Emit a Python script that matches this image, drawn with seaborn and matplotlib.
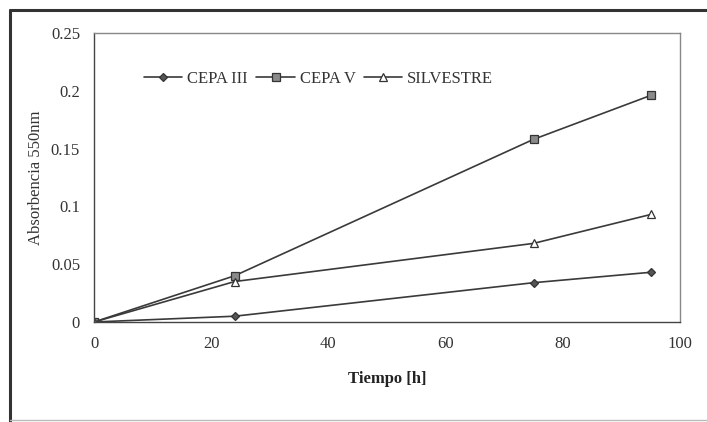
import numpy as np
import pandas as pd
import matplotlib.pyplot as plt
import seaborn as sns
from matplotlib.lines import Line2D
from matplotlib.ticker import FuncFormatter

tiempo = [0, 24, 75, 95]
cepa_iii = [0.0, 0.005, 0.034, 0.043]
cepa_v = [0.0, 0.040, 0.158, 0.196]
silvestre = [0.0, 0.035, 0.068, 0.093]

data = pd.DataFrame({
    'Tiempo': tiempo * 3,
    'Absorbencia': cepa_iii + cepa_v + silvestre,
    'Serie': ['CEPA III'] * 4 + ['CEPA V'] * 4 + ['SILVESTRE'] * 4,
})

sns.set_style('white')
plt.rcParams['font.family'] = ['Liberation Serif', 'DejaVu Serif']

fig = plt.figure(figsize=(7.07, 4.22), dpi=100)
ax = fig.add_axes([94 / 707, 1 - 322 / 422, (680 - 94) / 707, (322 - 33) / 422])

line_col = '#3a3a3a'
estilos = {
    'CEPA III': dict(marker='D', markersize=4.5, markerfacecolor='#555555', markeredgecolor='#333333'),
    'CEPA V': dict(marker='s', markersize=5.5, markerfacecolor='#8a8a8a', markeredgecolor='#333333'),
    'SILVESTRE': dict(marker='^', markersize=6, markerfacecolor='white', markeredgecolor='#333333'),
}
for serie, kw in estilos.items():
    sub = data[data['Serie'] == serie]
    sns.lineplot(data=sub, x='Tiempo', y='Absorbencia', ax=ax, color=line_col,
                 linewidth=1.2, label=serie, markeredgewidth=0.9, **kw)

ax.set_xlim(0, 100)
ax.set_ylim(0, 0.25)
ax.set_xticks([0, 20, 40, 60, 80, 100])
ax.set_yticks([0, 0.05, 0.1, 0.15, 0.2, 0.25])
ax.yaxis.set_major_formatter(FuncFormatter(lambda v, p: f'{v:g}'))
ax.tick_params(axis='x', direction='inout', length=8, width=0.8, colors='#444444',
               labelsize=12, labelcolor='#333333', pad=6)
ax.tick_params(axis='y', direction='inout', length=8, width=0.8, colors='#444444',
               labelsize=12, labelcolor='#333333', pad=6)

for side in ['left', 'bottom']:
    ax.spines[side].set_color('#444444')
    ax.spines[side].set_linewidth(1.0)
for side in ['top', 'right']:
    ax.spines[side].set_color('#888888')
    ax.spines[side].set_linewidth(1.0)

ax.set_xlabel('Tiempo [h]', fontsize=12, fontweight='bold', color='#222222', labelpad=14)
ax.set_ylabel('Absorbencia 550nm', fontsize=12, color='#333333', labelpad=5)

ax.legend(loc='upper left', bbox_to_anchor=(0.06, 0.92), ncol=3, frameon=False,
          fontsize=12, handlelength=2.3, handletextpad=0.3, columnspacing=0.5,
          labelcolor='#333333')

# marco exterior del gráfico
fig.add_artist(Line2D([10 / 707, 1], [1 - 10 / 422, 1 - 10 / 422], color='#333333', linewidth=2.2))
fig.add_artist(Line2D([10 / 707, 10 / 707], [1 - 10 / 422, 0], color='#333333', linewidth=2.2))
fig.add_artist(Line2D([10 / 707, 1], [2 / 422, 2 / 422], color='#bbbbbb', linewidth=1.0))

plt.savefig('out.png', dpi=100)
